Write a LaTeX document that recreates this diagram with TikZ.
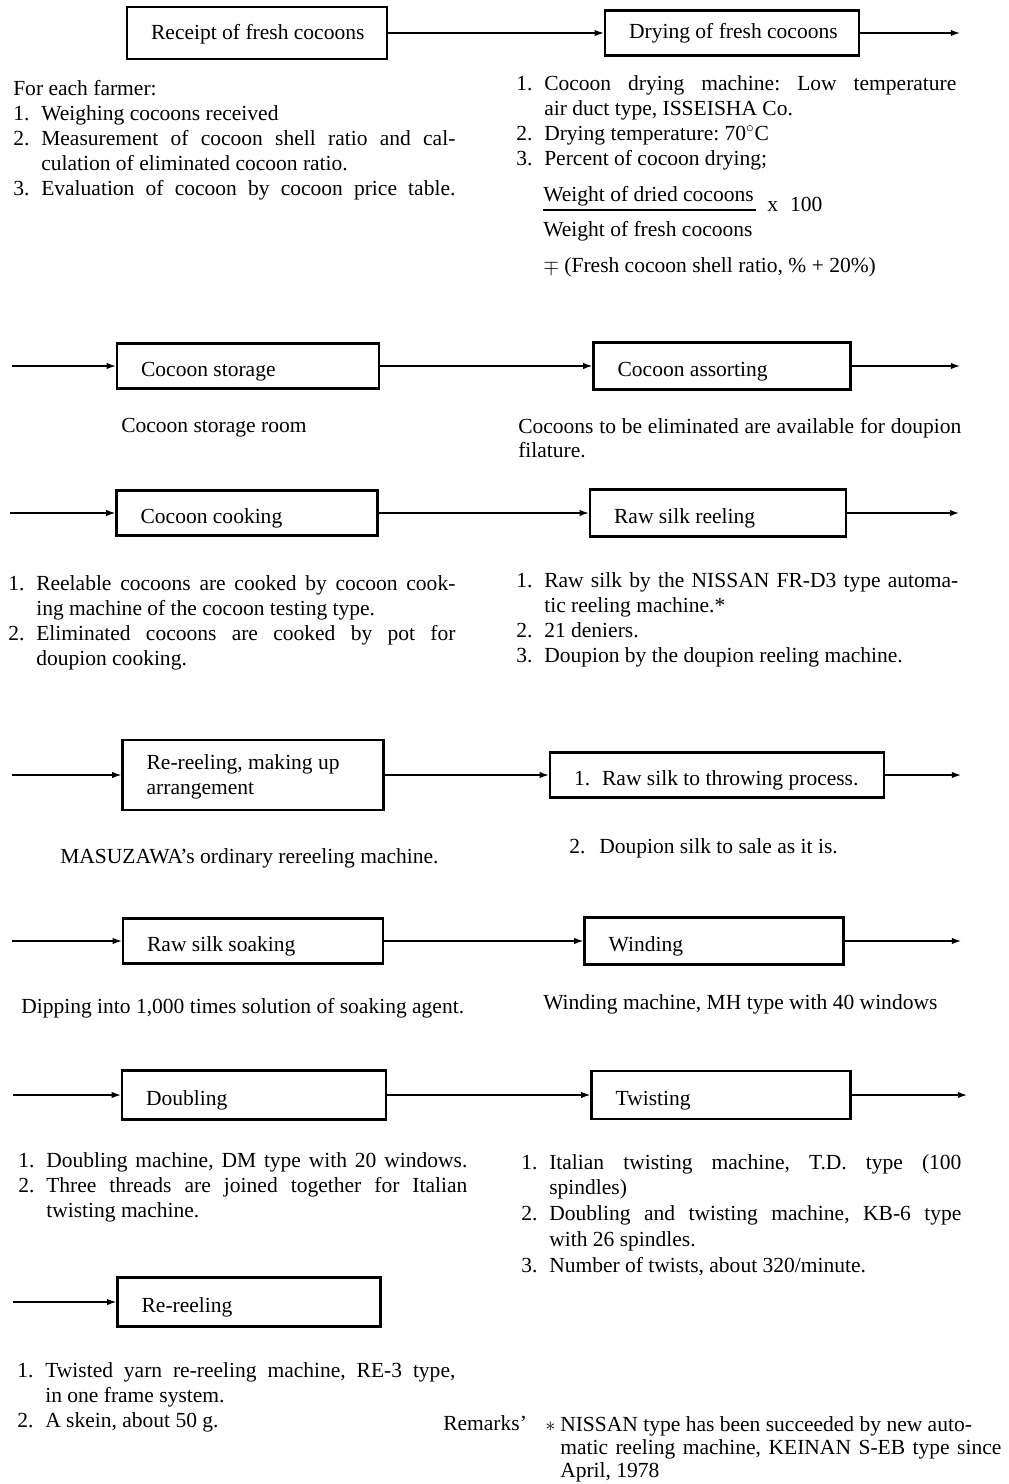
\documentclass[tikz,border=0pt]{standalone}
\usepackage{fontspec}
\setmainfont{Liberation Serif}
\usetikzlibrary{arrows.meta}

\newcommand{\bodyfont}{\fontsize{15.3}{17.8}\selectfont}
\newcommand{\itemno}[2]{\hangindent=0.7cm\hangafter=1\noindent\makebox[0.7cm][l]{#1}#2\par}
\newcommand{\itemfull}[2]{\hangindent=0.7cm\hangafter=1\noindent\makebox[0.7cm][l]{#1}#2\parfillskip=0pt\par\parfillskip=0pt plus 1fil\relax}
\tolerance=10000 \hyphenpenalty=10000 \exhyphenpenalty=10000 \hbadness=10000
\frenchspacing

\begin{document}
\begin{tikzpicture}[x=0.025cm, y=-0.025cm,
  every node/.style={font=\bodyfont},
  procbox/.style={draw, line width=1.6pt, inner sep=0pt},
  boxlabel/.style={anchor=base west, inner sep=0pt, xshift=0.625cm, yshift=-0.25cm, align=left},
  note/.style={anchor=north west, inner sep=0pt, align=justify},
  textline/.style={anchor=base west, inner sep=0pt},
  flow/.style={line width=0.9pt, -{Latex[length=6.5pt,width=4.5pt]}}]

\useasboundingbox (0,0) rectangle (1008,1484);

\node[procbox, minimum width=6.5cm, minimum height=1.3cm,
  label={[boxlabel, yshift=0.075cm]west:Receipt of fresh cocoons}] (rcpt) at (257,33) {};
\node[procbox, minimum width=6.35cm, minimum height=1.125cm,
  label={[boxlabel, yshift=0.11cm]west:Drying of fresh cocoons}] (dry) at (732,33) {};
\coordinate (out1) at (960,33);
\draw[flow] (rcpt) -- (dry);
\draw[flow] (dry) -- (out1);

\node[note, text width=11.05cm] (farmtxt) at (13,80) {For each farmer:\par
  \itemno{1.}{Weighing cocoons received}
  \itemno{2.}{Measurement of cocoon shell ratio and cal-\linebreak culation of eliminated cocoon ratio.}
  \itemfull{3.}{Evaluation of cocoon by cocoon price table.}};

\node[note, text width=11.0cm] (drytxt) at (516,75) {%
  \itemno{1.}{Cocoon drying machine: Low temperature\linebreak air duct type, ISSEISHA Co.}
  \itemno{2.}{Drying temperature: 70$^{\circ}$C}
  \itemno{3.}{Percent of cocoon drying;}};
\node[textline] (dried) at (543,202) {Weight of dried cocoons};
\draw[line width=0.8pt] (543,210) -- (756,210);
\node[textline] (times) at (767,212) {x\hspace{0.3cm}100};
\node[textline] (fresh) at (543,237) {Weight of fresh cocoons};
\node[textline] (ratio) at (543,273) {$\mp$ (Fresh cocoon shell ratio, \% + 20\%)};

\coordinate (in2) at (12,366);
\node[procbox, minimum width=6.55cm, minimum height=1.125cm,
  label={[boxlabel]west:Cocoon storage}] (stor) at (248,366) {};
\node[procbox, minimum width=6.425cm, minimum height=1.175cm,
  label={[boxlabel]west:Cocoon assorting}] (asrt) at (722,366) {};
\coordinate (out2) at (960,366);
\draw[flow] (in2) -- (stor);
\draw[flow] (stor) -- (asrt);
\draw[flow] (asrt) -- (out2);

\node[textline] (stortxt) at (121,432) {Cocoon storage room};
\node[note, text width=11.075cm, font={\fontsize{15.3}{17.1}\selectfont}] (asrttxt) at (518,418)
  {Cocoons to be eliminated are available for doupion\linebreak filature.};

\coordinate (in3) at (10,513);
\node[procbox, minimum width=6.525cm, minimum height=1.125cm,
  label={[boxlabel]west:Cocoon cooking}] (cook) at (247,513) {};
\node[procbox, minimum width=6.4cm, minimum height=1.175cm,
  label={[boxlabel]west:Raw silk reeling}] (reel) at (718,513) {};
\coordinate (out3) at (959,513);
\draw[flow] (in3) -- (cook);
\draw[flow] (cook) -- (reel);
\draw[flow] (reel) -- (out3);

\node[note, text width=11.175cm] (cooktxt) at (8,575) {%
  \itemno{1.}{Reelable cocoons are cooked by cocoon cook-\linebreak ing machine of the cocoon testing type.}
  \itemno{2.}{Eliminated cocoons are cooked by pot for\linebreak doupion cooking.}};
\node[note, text width=11.05cm] (reeltxt) at (516,572) {%
  \itemno{1.}{Raw silk by the NISSAN FR-D3 type automa-\linebreak tic reeling machine.*}
  \itemno{2.}{21 deniers.}
  \itemno{3.}{Doupion by the doupion reeling machine.}};

\coordinate (in4) at (12,775);
\node[procbox, minimum width=6.525cm, minimum height=1.75cm,
  label={[boxlabel, anchor=west, yshift=0.2cm]west:{Re-reeling, making up\\arrangement}}] (remk) at (253,775) {};
\node[procbox, minimum width=8.35cm, minimum height=1.125cm,
  label={[boxlabel]west:{\makebox[0.7cm][l]{1.}Raw silk to throwing process.}}] (throw) at (717,775) {};
\coordinate (out4) at (961,775);
\draw[flow] (in4) -- (remk);
\draw[flow] (remk) -- (throw);
\draw[flow] (throw) -- (out4);

\node[textline] (remktxt) at (60,863) {MASUZAWA's ordinary rereeling machine.};
\node[textline] (throwtxt) at (569,853) {\makebox[0.75cm][l]{2.}Doupion silk to sale as it is.};

\coordinate (in5) at (12,941);
\node[procbox, minimum width=6.5cm, minimum height=1.125cm,
  label={[boxlabel]west:Raw silk soaking}] (soak) at (253,941) {};
\node[procbox, minimum width=6.475cm, minimum height=1.175cm,
  label={[boxlabel]west:Winding}] (wind) at (714,941) {};
\coordinate (out5) at (961,941);
\draw[flow] (in5) -- (soak);
\draw[flow] (soak) -- (wind);
\draw[flow] (wind) -- (out5);

\node[textline] (soaktxt) at (21,1013) {Dipping into 1,000 times solution of soaking agent.};
\node[textline] (windtxt) at (543,1009) {Winding machine, MH type with 40 windows};

\coordinate (in6) at (13,1095);
\node[procbox, minimum width=6.6cm, minimum height=1.225cm,
  label={[boxlabel]west:Doubling}] (dbl) at (254,1095) {};
\node[procbox, minimum width=6.475cm, minimum height=1.2cm,
  label={[boxlabel]west:Twisting}] (twst) at (721,1095) {};
\coordinate (out6) at (967,1095);
\draw[flow] (in6) -- (dbl);
\draw[flow] (dbl) -- (twst);
\draw[flow] (twst) -- (out6);

\node[note, text width=11.225cm] (dbltxt) at (18,1152) {%
  \itemfull{1.}{Doubling machine, DM type with 20 windows.}
  \itemno{2.}{Three threads are joined together for Italian\linebreak twisting machine.}};
\node[note, text width=11.0cm, font={\fontsize{15.3}{18.3}\selectfont}] (twsttxt) at (521,1154) {%
  \itemno{1.}{Italian twisting machine, T.D. type (100\linebreak spindles)}
  \itemno{2.}{Doubling and twisting machine, KB-6 type\linebreak with 26 spindles.}
  \itemno{3.}{Number of twists, about 320/minute.}};

\coordinate (in7) at (13,1302);
\node[procbox, minimum width=6.575cm, minimum height=1.225cm,
  label={[boxlabel]west:Re-reeling}] (rerl) at (249,1302) {};
\draw[flow] (in7) -- (rerl);

\node[note, text width=10.95cm] (rerltxt) at (17,1362) {%
  \itemno{1.}{Twisted yarn re-reeling machine, RE-3 type,\linebreak in one frame system.}
  \itemno{2.}{A skein, about 50 g.}};

\node[textline] (rmks) at (443,1430) {Remarks'};
\node[textline] (star) at (545,1431) {$\ast$};
\node[note, text width=11.025cm, font={\fontsize{15.3}{16.4}\selectfont}] (rmkstxt) at (560,1416)
  {NISSAN type has been succeeded by new auto-\newline matic reeling machine, KEINAN S-EB type since\linebreak April, 1978};

\end{tikzpicture}
\end{document}
